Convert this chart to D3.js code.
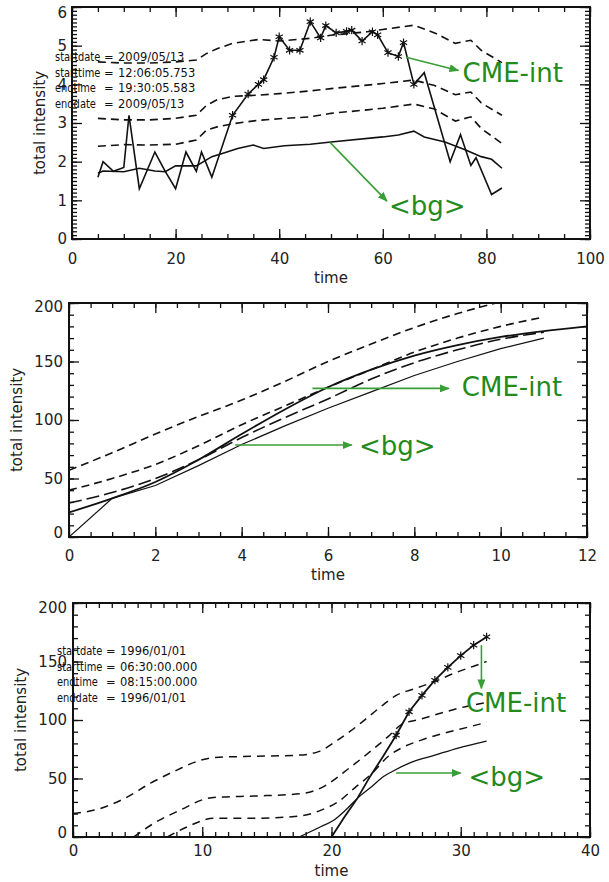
<!DOCTYPE html>
<html>
<head>
<meta charset="utf-8">
<script src="https://cdn.jsdelivr.net/npm/d3@7"></script>
<style>
  body { margin: 0; background: #fff; }
</style>
</head>
<body>
<div id="wrapper"></div>
<script>
// ---- panel 1 (2009/05/13) ----
const topTime = [5, 6, 8, 10, 11, 13, 16, 18, 20, 22, 24, 25, 27, 31, 34, 36, 37, 39, 40, 42, 44, 46, 48, 49, 51, 53, 54, 56, 58, 59, 61, 63, 64, 66, 68, 73, 75, 77, 78, 81, 83];
const topCme = [1.6, 2.0, 1.75, 1.85, 3.2, 1.3, 2.25, 1.75, 1.3, 2.25, 1.75, 2.25, 1.6, 3.2, 3.75, 4.0, 4.12, 4.7, 5.23, 4.88, 4.88, 5.62, 5.2, 5.52, 5.33, 5.37, 5.4, 5.12, 5.36, 5.28, 4.82, 4.72, 5.08, 4.0, 4.3, 2.0, 2.7, 1.9, 2.1, 1.15, 1.32];
const topStarRange = [31, 66];
const topBgTime = [5, 6, 10, 13, 16, 18, 20, 22, 24, 27, 29, 32, 35, 37, 41, 46, 50, 60, 63, 66, 68, 72, 76, 79, 81, 83];
const topBg = [1.70, 1.76, 1.74, 1.83, 1.76, 1.74, 1.89, 1.89, 1.89, 2.13, 2.21, 2.34, 2.43, 2.34, 2.41, 2.45, 2.51, 2.64, 2.69, 2.79, 2.64, 2.51, 2.30, 2.13, 2.06, 1.83];
const topSigTime = [5, 10, 15, 20, 24, 26, 28, 31, 36, 40, 46, 50, 57, 60, 66, 70, 74, 77, 79, 83];
const topSig1 = [4.58, 4.55, 4.55, 4.58, 4.63, 4.8, 4.92, 5.06, 5.16, 5.12, 5.19, 5.27, 5.36, 5.42, 5.53, 5.33, 5.06, 5.14, 4.88, 4.56];
const topSig2 = [3.12, 3.08, 3.08, 3.12, 3.2, 3.46, 3.6, 3.69, 3.72, 3.76, 3.83, 3.89, 3.98, 4.02, 4.11, 3.97, 3.73, 3.8, 3.52, 3.2];
const topSig3 = [2.4, 2.44, 2.43, 2.45, 2.56, 2.82, 2.9, 2.98, 3.07, 3.11, 3.16, 3.25, 3.34, 3.38, 3.49, 3.36, 3.05, 3.16, 2.86, 2.47];
const topInfo = [["startdate", "2009/05/13"], ["starttime", "12:06:05.753"], ["endtime", "19:30:05.583"], ["enddate", "2009/05/13"]];

// ---- panel 2 ----
const midTime = [0, 1, 2, 3, 4, 5, 6, 7, 8, 9, 10, 11];
const midCmeTime = [0, 1, 2, 3, 4, 5, 6, 7, 8, 9, 10, 11, 12];
const midSig1 = [57, 72, 88, 103, 117, 133, 150, 165, 179, 191, 201, 210];
const midSig2 = [40, 50, 62, 78, 96, 112, 128, 143, 158, 170, 180, 188];
const midSig3 = [29, 38, 50, 66, 85, 102, 118, 135, 149, 160, 169, 175];
const midCme = [21, 33, 47, 66, 88, 109, 128, 143, 155, 164, 171, 176, 180];
const midBg = [0, 33, 44, 61, 79, 95, 110, 124, 138, 150, 161, 170];

// ---- panel 3 (1996/01/01) ----
const botCmeTime = [17, 20, 21, 22, 23, 24, 25, 26, 27, 28, 29, 30, 31, 32];
const botCme = [0, 0, 17, 33, 52, 69, 87, 107, 121, 134, 145, 155, 164, 171];
const botStarRange = [25, 32];
const botBgTime = [17.5, 19.2, 20.2, 21.1, 22, 23.1, 24, 24.7, 26.2, 28, 29.8, 32];
const botBg = [0, 9, 14.5, 23, 33, 43, 51.5, 56, 64, 70, 76, 82];
const botSig1Time = [0, 2, 4, 6, 8, 10, 11, 14, 17.5, 19, 20.5, 22, 23, 24, 25, 26.5, 28, 29.5, 31, 32];
const botSig1 = [20, 24, 33, 46, 57, 66, 68, 69, 70, 73, 83, 95, 104, 113, 121, 127, 133, 140, 146, 150];
const botSig2Time = [4.7, 6.3, 8.3, 10.4, 11.2, 14, 17.6, 19.2, 21.5, 23.1, 24.4, 25.4, 27, 28.5, 30.6, 32];
const botSig2 = [0, 12, 23, 33, 34, 35, 37, 42, 60, 74, 86, 96, 101, 106, 112, 115];
const botSig3Time = [7.3, 8.9, 10.9, 14, 17.6, 19.2, 20.5, 21.8, 23.1, 24.4, 25.4, 27, 28.8, 30.6, 32];
const botSig3 = [0, 9, 16, 16, 18, 23, 30, 42, 54, 69, 76, 83, 89, 94, 98];
const botInfo = [["startdate", "1996/01/01"], ["starttime", "06:30:00.000"], ["endtime", "08:15:00.000"], ["enddate", "1996/01/01"]];

const FONT = "'DejaVu Sans', sans-serif";
const GREEN_TXT = "#238a1c";
const GREEN_ARR = "#3a9e36";

const svg = d3.select("#wrapper").append("svg")
    .attr("width", 609)
    .attr("height", 882)
    .style("background", "#fff");

const defs = svg.append("defs");
defs.append("marker")
    .attr("id", "arrowhead")
    .attr("markerUnits", "userSpaceOnUse")
    .attr("markerWidth", 10).attr("markerHeight", 8)
    .attr("refX", 9).attr("refY", 4)
    .attr("orient", "auto")
    .append("path")
    .attr("d", "M0,0 L10,4 L0,8 Z")
    .attr("fill", GREEN_ARR);

const starType = d3.symbolAsterisk || d3.symbolCross;

function drawPanel(cfg) {
    const x = d3.scaleLinear(cfg.xDomain, [cfg.left, cfg.right]);
    const y = d3.scaleLinear(cfg.yDomain, [cfg.bottom, cfg.top]);
    const g = svg.append("g");

    const clipId = "clip-" + cfg.id;
    defs.append("clipPath").attr("id", clipId).append("rect")
        .attr("x", cfg.left).attr("y", cfg.top)
        .attr("width", cfg.right - cfg.left).attr("height", cfg.bottom - cfg.top);

    // ticks (IDL style, all pointing inwards)
    function axis(gen, scale, vals, len, labels, pad, tr) {
        const a = g.append("g").attr("transform", tr)
            .call(gen(scale).tickValues(vals).tickSizeInner(-len).tickSizeOuter(0)
                .tickPadding(pad).tickFormat(labels ? d3.format("d") : ""));
        a.select(".domain").remove();
        a.selectAll(".tick line").attr("stroke", "#111").attr("stroke-width", 1.3);
        a.attr("font-family", FONT).attr("font-size", 15);
        a.selectAll(".tick text").attr("fill", "#222");
        return a;
    }
    const bt = `translate(0,${cfg.bottom})`, tt = `translate(0,${cfg.top})`;
    const lt = `translate(${cfg.left},0)`, rt = `translate(${cfg.right},0)`;

    axis(d3.axisBottom, x, cfg.xMinor, 5, false, 0, bt);
    axis(d3.axisTop, x, cfg.xMinor, 5, false, 0, tt);
    axis(d3.axisLeft, y, cfg.yMinor, 5, false, 0, lt);
    axis(d3.axisRight, y, cfg.yMinor, 5, false, 0, rt);
    axis(d3.axisBottom, x, cfg.xMajor, 10, true, cfg.xPad, bt);
    axis(d3.axisTop, x, cfg.xMajor, 10, false, 0, tt);
    const yl = axis(d3.axisLeft, y, cfg.yMajor, 10, true, cfg.yPad, lt);
    axis(d3.axisRight, y, cfg.yMajor, 10, false, 0, rt);

    yl.selectAll(".tick text")
        .filter(d => d === cfg.yDomain[1]).attr("transform", `translate(0,${cfg.topShift})`);
    yl.selectAll(".tick text")
        .filter(d => d === cfg.yDomain[0]).attr("transform", `translate(0,${cfg.botShift})`);

    g.append("rect")
        .attr("x", cfg.left).attr("y", cfg.top)
        .attr("width", cfg.right - cfg.left).attr("height", cfg.bottom - cfg.top)
        .attr("fill", "none").attr("stroke", "#111").attr("stroke-width", 2);

    // axis titles
    g.append("text")
        .attr("x", (cfg.left + cfg.right) / 2).attr("y", cfg.timeY)
        .attr("text-anchor", "middle")
        .attr("font-family", FONT).attr("font-size", 15).attr("fill", "#222")
        .text("time");
    g.append("text")
        .attr("transform", `translate(${cfg.yLabelX},${(cfg.top + cfg.bottom) / 2}) rotate(-90)`)
        .attr("text-anchor", "middle")
        .attr("font-family", FONT).attr("font-size", 15).attr("fill", "#222")
        .text("total intensity");

    // curves
    const lines = g.append("g").attr("clip-path", `url(#${clipId})`);
    cfg.series.forEach(s => {
        const pts = d3.zip(s.x, s.y);
        lines.append("path")
            .datum(pts)
            .attr("fill", "none")
            .attr("stroke", "#111")
            .attr("stroke-width", s.width)
            .attr("stroke-dasharray", s.dash || null)
            .attr("d", d3.line().x(d => x(d[0])).y(d => y(d[1])).curve(s.curve || d3.curveLinear));
        if (s.stars) {
            lines.selectAll(null)
                .data(pts.filter(d => d[0] >= s.stars[0] && d[0] <= s.stars[1]))
                .join("path")
                .attr("transform", d => `translate(${x(d[0])},${y(d[1])})`)
                .attr("d", d3.symbol(starType, 48))
                .attr("fill", "none")
                .attr("stroke", "#111")
                .attr("stroke-width", 1.2);
        }
    });

    // header text block (label column is a narrow face in the original)
    if (cfg.info) {
        const info = g.append("g")
            .attr("font-family", FONT).attr("font-size", 11.5).attr("fill", "#111");
        cfg.info.forEach((row, i) => {
            const by = cfg.infoY + i * cfg.infoStep;
            info.append("text")
                .attr("transform", `translate(${cfg.infoX},${by}) scale(0.86,1)`)
                .text(row[0]);
            info.append("text").attr("x", cfg.infoX + 49).attr("y", by).text("=");
            info.append("text").attr("x", cfg.infoX + 63).attr("y", by).text(row[1]);
        });
    }

    // green annotations
    cfg.notes.forEach(n => {
        g.append("line")
            .attr("x1", x(n.from[0])).attr("y1", y(n.from[1]))
            .attr("x2", x(n.to[0])).attr("y2", y(n.to[1]))
            .attr("stroke", GREEN_ARR).attr("stroke-width", 1.6)
            .attr("marker-end", "url(#arrowhead)");
        g.append("text")
            .attr("x", x(n.at[0])).attr("y", y(n.at[1]))
            .attr("font-family", FONT).attr("font-size", 26)
            .attr("fill", GREEN_TXT)
            .text(n.label);
    });
}

drawPanel({
    id: "top", left: 72, right: 590, top: 7, bottom: 239,
    xDomain: [0, 100], yDomain: [0, 6],
    xMajor: d3.range(0, 101, 20), xMinor: d3.range(0, 101, 5),
    yMajor: d3.range(0, 7, 1), yMinor: d3.range(0, 60.5, 1).map(d => d / 10),
    xPad: 14, yPad: 5, topShift: 6, botShift: 0,
    yLabelX: 45, timeY: 283,
    info: topInfo, infoX: 55, infoY: 61, infoStep: 15.5,
    series: [
        { x: topSigTime, y: topSig1, width: 1.6, dash: "8,5" },
        { x: topSigTime, y: topSig2, width: 1.6, dash: "8,5" },
        { x: topSigTime, y: topSig3, width: 1.6, dash: "8,5" },
        { x: topBgTime, y: topBg, width: 1.6 },
        { x: topTime, y: topCme, width: 1.6, stars: topStarRange }
    ],
    notes: [
        { from: [64.5, 4.7], to: [74.6, 4.36], at: [75.4, 4.06], label: "CME-int" },
        { from: [49.8, 2.5], to: [60.8, 0.98], at: [61.2, 0.62], label: "<bg>" }
    ]
});

drawPanel({
    id: "mid", left: 69, right: 587, top: 303, bottom: 537,
    xDomain: [0, 12], yDomain: [0, 200],
    xMajor: d3.range(0, 13, 2), xMinor: d3.range(0, 12.1, 0.5),
    yMajor: d3.range(0, 201, 50), yMinor: d3.range(0, 201, 10),
    xPad: 13, yPad: 6, topShift: 4, botShift: -4,
    yLabelX: 22, timeY: 580,
    series: [
        { x: midTime, y: midSig1, width: 1.6, dash: "8,5", curve: d3.curveMonotoneX },
        { x: midTime, y: midSig2, width: 1.6, dash: "8,5", curve: d3.curveMonotoneX },
        { x: midTime, y: midSig3, width: 1.6, dash: "13,5", curve: d3.curveMonotoneX },
        { x: midTime, y: midBg, width: 1.2 },
        { x: midCmeTime, y: midCme, width: 1.8, curve: d3.curveMonotoneX }
    ],
    notes: [
        { from: [5.64, 127], to: [8.8, 127], at: [9.1, 120.5], label: "CME-int" },
        { from: [3.85, 78.6], to: [6.55, 78.6], at: [6.72, 70], label: "<bg>" }
    ]
});

drawPanel({
    id: "bot", left: 73, right: 590, top: 603, bottom: 837,
    xDomain: [0, 40], yDomain: [0, 200],
    xMajor: d3.range(0, 41, 10), xMinor: d3.range(0, 41, 1),
    yMajor: d3.range(0, 201, 50), yMinor: d3.range(0, 201, 10),
    xPad: 8, yPad: 6, topShift: 5, botShift: -4,
    yLabelX: 26, timeY: 876,
    info: botInfo, infoX: 57, infoY: 655, infoStep: 15.5,
    series: [
        { x: botSig1Time, y: botSig1, width: 1.5, dash: "8,6", curve: d3.curveMonotoneX },
        { x: botSig2Time, y: botSig2, width: 1.5, dash: "8,6", curve: d3.curveMonotoneX },
        { x: botSig3Time, y: botSig3, width: 1.5, dash: "8,6", curve: d3.curveMonotoneX },
        { x: botBgTime, y: botBg, width: 1.3, curve: d3.curveMonotoneX },
        { x: botCmeTime, y: botCme, width: 1.8, stars: botStarRange }
    ],
    notes: [
        { from: [31.6, 164], to: [31.6, 127], at: [30.4, 107], label: "CME-int" },
        { from: [25, 54.7], to: [30, 54.7], at: [30.6, 44], label: "<bg>" }
    ]
});
</script>
</body>
</html>
